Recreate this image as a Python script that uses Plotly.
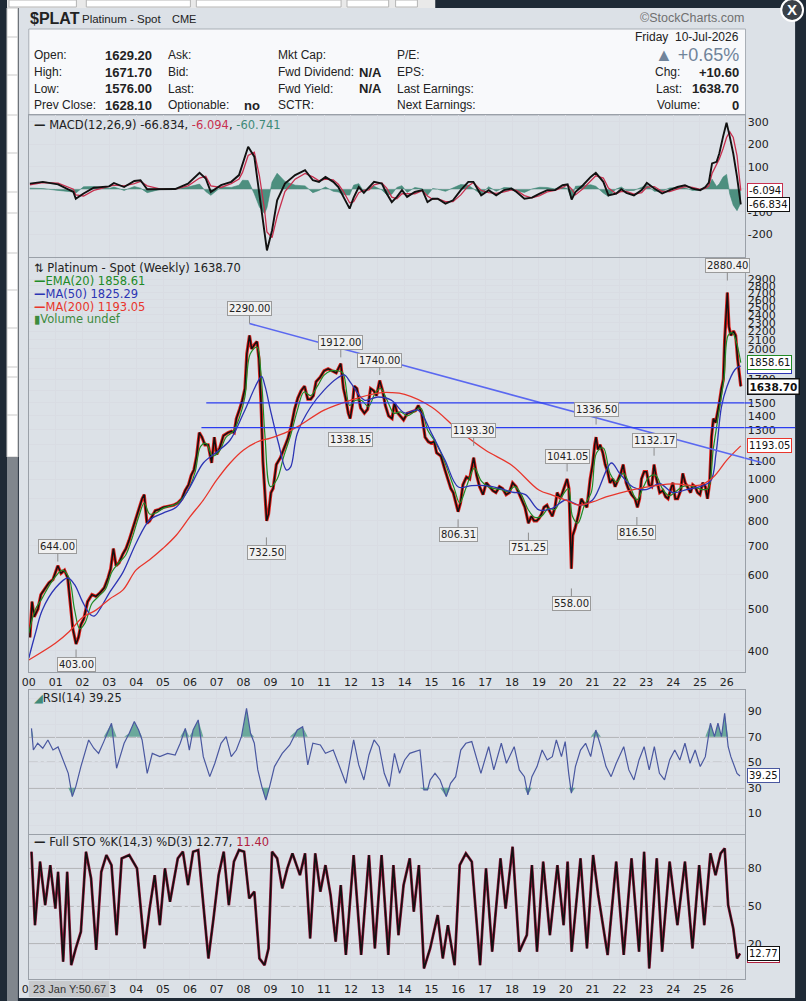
import numpy as np
import plotly.graph_objects as go

W, H = 806, 1001
SANS = "DejaVu Sans, Verdana, sans-serif"
NARROW = "Liberation Sans, Arial, sans-serif"

# ---------------- data (x in decimal years) ----------------
YEAR_TICKS = [2000, 2001, 2002, 2003, 2004, 2005, 2006, 2007, 2008, 2009, 2010, 2011, 2012, 2013,
              2014, 2015, 2016, 2017, 2018, 2019, 2020, 2021, 2022, 2023, 2024, 2025, 2026]
YEAR_LABELS = ["00", "01", "02", "03", "04", "05", "06", "07", "08", "09", "10", "11", "12", "13",
               "14", "15", "16", "17", "18", "19", "20", "21", "22", "23", "24", "25", "26"]
# bottom axis: 01 and 02 sit under the hover readout box
BOTTOM_LABELS = ["00", "", "", "03", "04", "05", "06", "07", "08", "09", "10", "11", "12", "13",
                 "14", "15", "16", "17", "18", "19", "20", "21", "22", "23", "24", "25", "26"]
PRICE_TICKS = [400, 500, 600, 700, 800, 900, 1000, 1100, 1200, 1300, 1400, 1500, 1600, 1700, 1800,
               1900, 2000, 2100, 2200, 2300, 2400, 2500, 2600, 2700, 2800, 2900]
# 1200, 1600, 1800 and 1900 are hidden behind the value tags on the right
PRICE_TICK_TEXT = ["400", "500", "600", "700", "800", "900", "1000", "1100", "", "1300", "1400", "1500",
                   "", "1700", "", "", "2000", "2100", "2200", "2300", "2400", "2500", "2600", "2700",
                   "2800", "2900"]

# weekly closes, platinum spot
PRICE_X = [2000.04, 2000.12, 2000.20, 2000.34, 2000.45, 2000.59, 2000.75, 2000.90, 2001.00, 2001.08,
           2001.20, 2001.33, 2001.45, 2001.55, 2001.64, 2001.76, 2001.85, 2001.94, 2002.05, 2002.19,
           2002.35, 2002.50, 2002.65, 2002.81, 2002.95, 2003.05, 2003.15, 2003.25, 2003.36, 2003.50,
           2003.62, 2003.73, 2003.85, 2004.00, 2004.12, 2004.22, 2004.30, 2004.40, 2004.50, 2004.60,
           2004.71, 2004.85, 2005.02, 2005.20, 2005.39, 2005.55, 2005.70, 2005.82, 2005.95, 2006.05,
           2006.15, 2006.25, 2006.35, 2006.45, 2006.56, 2006.68, 2006.81, 2006.91, 2007.00, 2007.11,
           2007.25, 2007.42, 2007.55, 2007.65, 2007.73, 2007.85, 2007.95, 2008.05, 2008.12, 2008.22,
           2008.30, 2008.41, 2008.50, 2008.57, 2008.65, 2008.72, 2008.78, 2008.86, 2008.93, 2009.02,
           2009.10, 2009.22, 2009.37, 2009.50, 2009.65, 2009.78, 2009.90, 2010.02, 2010.14, 2010.27,
           2010.39, 2010.50, 2010.60, 2010.70, 2010.85, 2011.00, 2011.15, 2011.30, 2011.45, 2011.62,
           2011.72, 2011.80, 2011.90, 2011.97, 2012.05, 2012.12, 2012.22, 2012.36, 2012.50, 2012.62,
           2012.73, 2012.85, 2012.95, 2013.07, 2013.18, 2013.28, 2013.40, 2013.53, 2013.62, 2013.71,
           2013.85, 2013.96, 2014.10, 2014.27, 2014.40, 2014.51, 2014.63, 2014.76, 2014.88, 2014.98,
           2015.10, 2015.19, 2015.35, 2015.50, 2015.62, 2015.72, 2015.81, 2015.92, 2015.99, 2016.08,
           2016.17, 2016.30, 2016.42, 2016.57, 2016.68, 2016.79, 2016.92, 2017.04, 2017.15, 2017.28,
           2017.40, 2017.53, 2017.65, 2017.78, 2017.90, 2018.02, 2018.15, 2018.33, 2018.48, 2018.61,
           2018.72, 2018.82, 2018.92, 2019.00, 2019.10, 2019.19, 2019.30, 2019.37, 2019.50, 2019.60,
           2019.68, 2019.80, 2019.87, 2019.96, 2020.05, 2020.12, 2020.18, 2020.21, 2020.26, 2020.35,
           2020.48, 2020.58, 2020.67, 2020.79, 2020.91, 2021.00, 2021.08, 2021.13, 2021.20, 2021.28,
           2021.38, 2021.47, 2021.56, 2021.65, 2021.75, 2021.84, 2021.96, 2022.05, 2022.14, 2022.25,
           2022.33, 2022.45, 2022.58, 2022.67, 2022.75, 2022.82, 2022.92, 2023.01, 2023.10, 2023.20,
           2023.29, 2023.38, 2023.50, 2023.62, 2023.72, 2023.81, 2023.92, 2023.99, 2024.08, 2024.17,
           2024.28, 2024.36, 2024.45, 2024.54, 2024.65, 2024.73, 2024.82, 2024.91, 2025.00, 2025.10,
           2025.20, 2025.28, 2025.36, 2025.43, 2025.50, 2025.58, 2025.65, 2025.72, 2025.80, 2025.87,
           2025.92, 2025.98, 2026.02, 2026.08, 2026.15, 2026.25, 2026.33, 2026.40, 2026.46, 2026.52]
PRICE_Y = [430, 520, 480, 500, 540, 555, 575, 585, 610, 630,
           605, 615, 590, 520, 450, 415, 430, 460, 475, 520,
           540, 535, 545, 560, 590, 620, 690, 630, 640, 670,
           690, 720, 760, 820, 860, 900, 920, 790, 800, 820,
           845, 850, 860, 865, 870, 880, 900, 940, 970, 1020,
           1050, 1130, 1280, 1250, 1200, 1200, 1090, 1250, 1140, 1180,
           1260, 1280, 1290, 1280, 1380, 1450, 1520, 1620, 1950, 2150,
           2000, 2050, 2080, 1900, 1500, 1100, 950, 800, 830, 930,
           950, 1080, 1120, 1180, 1240, 1330, 1450, 1540, 1600, 1640,
           1530, 1530, 1560, 1680, 1720, 1780, 1800, 1780, 1760, 1850,
           1620, 1540, 1420, 1380, 1480, 1640, 1620, 1460, 1420, 1450,
           1620, 1600, 1560, 1690, 1600, 1480, 1400, 1380, 1500, 1430,
           1400, 1370, 1420, 1430, 1440, 1480, 1420, 1250, 1220, 1210,
           1220, 1150, 1130, 1050, 990, 950, 930, 880, 840, 880,
           970, 1010, 1000, 1120, 1020, 960, 920, 980, 960, 940,
           930, 960, 950, 920, 930, 980, 960, 900, 860, 790,
           820, 800, 800, 810, 830, 860, 870, 850, 820, 860,
           930, 900, 930, 960, 1000, 950, 720, 620, 740, 770,
           830, 900, 880, 860, 1000, 1080, 1200, 1250, 1170, 1200,
           1150, 1080, 1040, 980, 1000, 960, 1000, 1030, 1080, 980,
           950, 920, 900, 860, 900, 1000, 1040, 1040, 970, 960,
           1080, 1000, 930, 940, 910, 900, 950, 980, 900, 900,
           940, 1030, 980, 960, 930, 970, 960, 930, 920, 980,
           960, 900, 980, 1250, 1380, 1350, 1420, 1500, 1620, 1700,
           2100, 2500, 2700, 2250, 2150, 2200, 2150, 1900, 1750, 1639]

EMA20_X = [2000.0, 2000.25, 2000.5, 2000.75, 2001.0, 2001.25, 2001.5, 2001.7, 2001.9, 2002.1,
           2002.35, 2002.6, 2002.85, 2003.1, 2003.35, 2003.6, 2003.85, 2004.1, 2004.3, 2004.5,
           2004.75, 2005.0, 2005.25, 2005.5, 2005.75, 2006.0, 2006.2, 2006.4, 2006.6, 2006.85,
           2007.1, 2007.35, 2007.6, 2007.85, 2008.05, 2008.25, 2008.5, 2008.65, 2008.8, 2009.0,
           2009.25, 2009.5, 2009.75, 2010.0, 2010.25, 2010.5, 2010.75, 2011.0, 2011.25, 2011.5,
           2011.7, 2011.95, 2012.15, 2012.4, 2012.65, 2012.9, 2013.1, 2013.35, 2013.6, 2013.85,
           2014.1, 2014.35, 2014.6, 2014.85, 2015.1, 2015.35, 2015.6, 2015.85, 2016.05, 2016.3,
           2016.6, 2016.85, 2017.1, 2017.35, 2017.6, 2017.85, 2018.1, 2018.35, 2018.6, 2018.85,
           2019.1, 2019.35, 2019.6, 2019.85, 2020.1, 2020.25, 2020.45, 2020.7, 2020.95, 2021.15,
           2021.4, 2021.65, 2021.9, 2022.15, 2022.4, 2022.65, 2022.9, 2023.1, 2023.35, 2023.6,
           2023.85, 2024.1, 2024.35, 2024.6, 2024.85, 2025.1, 2025.3, 2025.5, 2025.7, 2025.9,
           2026.05, 2026.2, 2026.35, 2026.52]
EMA20_Y = [440, 500, 530, 565, 595, 615, 590, 500, 450, 465,
           515, 535, 555, 610, 640, 665, 730, 820, 880, 830,
           835, 855, 865, 875, 905, 960, 1040, 1190, 1210, 1130,
           1160, 1250, 1285, 1390, 1550, 1950, 2020, 1750, 1250, 960,
           1000, 1130, 1260, 1440, 1590, 1560, 1640, 1740, 1780, 1780,
           1760, 1480, 1520, 1520, 1470, 1580, 1620, 1520, 1420, 1430,
           1400, 1430, 1460, 1300, 1230, 1150, 1050, 950, 880, 960,
           1060, 990, 960, 950, 945, 935, 960, 920, 850, 815,
           820, 855, 850, 910, 950, 820, 790, 870, 930, 1150,
           1180, 1030, 985, 1030, 960, 895, 960, 1010, 1020, 950,
           915, 935, 960, 965, 955, 945, 950, 1180, 1420, 1720,
           2150, 2180, 2080, 1859]

MA50_X = [2000.0, 2000.25, 2000.5, 2001.0, 2001.45, 2001.7, 2002.0, 2002.3, 2002.45, 2002.7,
          2003.0, 2003.5, 2004.0, 2004.5, 2005.0, 2005.5, 2006.0, 2006.5, 2007.0, 2007.5,
          2008.0, 2008.5, 2008.67, 2008.8, 2009.0, 2009.3, 2009.6, 2009.75, 2010.0, 2010.5,
          2011.0, 2011.5, 2011.75, 2012.0, 2012.5, 2013.0, 2013.5, 2014.0, 2014.5, 2015.0,
          2015.5, 2016.0, 2016.5, 2017.0, 2017.5, 2018.0, 2018.5, 2019.0, 2019.5, 2020.0,
          2020.5, 2021.0, 2021.7, 2022.0, 2022.5, 2023.0, 2023.5, 2024.0, 2024.5, 2025.0,
          2025.4, 2025.6, 2025.8, 2026.0, 2026.3, 2026.45, 2026.52]
MA50_Y = [385, 440, 497, 560, 590, 570, 520, 485, 482, 506,
          545, 607, 711, 804, 834, 861, 958, 1089, 1155, 1231,
          1422, 1667, 1728, 1640, 1444, 1210, 1049, 1065, 1275, 1468,
          1606, 1713, 1741, 1667, 1523, 1548, 1523, 1422, 1444, 1275,
          1106, 958, 965, 965, 953, 933, 920, 848, 855, 894,
          870, 894, 1089, 1032, 958, 945, 975, 930, 945, 960,
          990, 1149, 1468, 1633, 1790, 1820, 1825]

MA200_X = [2000.0, 2001.0, 2001.5, 2002.0, 2002.5, 2003.0, 2003.5, 2004.0, 2004.5, 2005.0,
           2005.5, 2006.0, 2006.5, 2007.0, 2007.5, 2008.0, 2008.5, 2009.0, 2009.5, 2010.0,
           2011.0, 2012.0, 2013.0, 2013.5, 2014.0, 2015.0, 2016.0, 2017.0, 2018.0, 2019.0,
           2019.5, 2020.0, 2020.5, 2021.0, 2021.5, 2022.0, 2023.0, 2024.0, 2025.0, 2025.5,
           2026.0, 2026.52]
MA200_Y = [381, 417, 443, 478, 497, 527, 553, 616, 650, 691,
           742, 817, 894, 995, 1089, 1167, 1218, 1244, 1275, 1320,
           1444, 1523, 1581, 1585, 1570, 1468, 1298, 1167, 1075, 943,
           918, 894, 870, 885, 909, 928, 958, 974, 968, 1011,
           1106, 1193]

# labelled swing highs / lows
PEAK_X = [2001.08, 2008.22, 2011.62, 2013.07, 2016.57, 2020.05, 2021.13, 2023.29, 2026.02]
PEAK_Y = [644.00, 2290.00, 1912.00, 1740.00, 1193.30, 1041.05, 1336.50, 1132.17, 2880.40]
TROUGH_X = [2001.76, 2008.85, 2011.99, 2015.99, 2018.61, 2020.21, 2022.65]
TROUGH_Y = [403.00, 732.50, 1338.15, 806.31, 751.25, 558.00, 816.50]

# drawn trend line and two horizontal levels
TREND_X = [2008.22, 2026.66]
TREND_Y = [2290, 1118]
LEVEL_START = [2006.61, 2006.43]
LEVEL_Y = [1500, 1315]

# MACD(12,26,9)
MACD_X = [2000.04, 2000.52, 2001.09, 2001.66, 2001.75, 2002.04, 2002.42, 2002.99, 2003.17, 2003.55,
          2003.93, 2004.16, 2004.41, 2004.88, 2005.45, 2005.93, 2006.36, 2006.59, 2006.78, 2007.16,
          2007.54, 2007.83, 2007.96, 2008.17, 2008.40, 2008.59, 2008.78, 2008.87, 2009.06, 2009.25,
          2009.54, 2009.92, 2010.29, 2010.58, 2010.81, 2011.05, 2011.34, 2011.53, 2011.72, 2011.95,
          2012.10, 2012.29, 2012.48, 2012.67, 2012.86, 2013.15, 2013.33, 2013.52, 2013.71, 2013.90,
          2014.09, 2014.38, 2014.66, 2014.85, 2015.04, 2015.23, 2015.52, 2015.80, 2016.09, 2016.37,
          2016.56, 2016.85, 2017.13, 2017.41, 2017.70, 2017.98, 2018.17, 2018.46, 2018.74, 2019.03,
          2019.31, 2019.60, 2019.88, 2020.07, 2020.22, 2020.36, 2020.64, 2020.93, 2021.12, 2021.40,
          2021.59, 2021.88, 2022.07, 2022.26, 2022.54, 2022.83, 2023.02, 2023.30, 2023.59, 2023.87,
          2024.16, 2024.44, 2024.72, 2025.01, 2025.20, 2025.33, 2025.45, 2025.62, 2025.72, 2025.86,
          2025.99, 2026.11, 2026.24, 2026.38, 2026.52]
MACD_LINE = [25, 33, 22, -12, -42, -19, 7, 13, 28, 10,
             37, 40, 0, 1, 1, 25, 73, 48, -12, 18,
             33, 63, 115, 189, 145, -19, -198, -272, -183, -49,
             25, 63, 85, 40, 33, 55, 33, 10, -34, -86,
             -37, 10, -16, 7, 33, 25, -19, -57, -34, -4,
             -34, -12, -4, -57, -42, -42, -64, -49, -4, 33,
             33, -27, -4, -27, -4, 3, -12, -42, -37, -19,
             -4, -4, 18, 22, -46, -12, 18, 55, 73, 33,
             -27, -19, 0, -16, -27, -4, 28, 3, -19, -4,
             10, 18, 3, -4, 10, 30, 115, 122, 159, 234,
             296, 234, 159, 55, -66.834]
MACD_SIGNAL = [20, 30, 27, 0, -25, -30, -5, 10, 18, 15,
               25, 35, 15, 2, 1, 15, 50, 58, 15, 8,
               25, 45, 75, 150, 165, 60, -90, -190, -215, -120,
               -10, 45, 70, 55, 38, 45, 42, 22, -10, -60,
               -55, -15, -5, -3, 20, 28, 5, -35, -42, -20,
               -20, -20, -6, -30, -45, -42, -55, -55, -25, 15,
               30, -5, -15, -18, -12, -3, -5, -28, -38, -28,
               -12, -5, 8, 20, 0, -25, 2, 35, 60, 50,
               5, -20, -10, -10, -22, -15, 10, 12, -10, -10,
               2, 12, 8, 0, 4, 15, 70, 110, 135, 180,
               230, 255, 230, 150, -6.094]
MACD_HIST = [5, 3, -5, -12, -17, 11, 12, 3, 10, -5,
             12, 5, -15, -1, 0, 10, 23, -10, -27, 10,
             8, 18, 40, 39, -20, -79, -108, -82, 32, 71,
             35, 18, 15, -15, -5, 10, -9, -12, -24, -26,
             18, 25, -11, 10, 13, -3, -24, -22, 8, 16,
             -14, 8, 2, -27, 3, 0, -9, 6, 21, 18,
             3, -22, 11, -9, 8, 6, -7, -14, 1, 9,
             8, 1, 10, 2, -46, 13, 16, 20, 13, -17,
             -32, 1, 10, -6, -5, 11, 18, -9, -9, 6,
             8, 6, -5, -4, 6, 15, 45, 12, 24, 54,
             66, -21, -71, -95, -60.741]

# RSI(14)
RSI_X = [2000.10, 2000.17, 2000.33, 2000.52, 2000.71, 2000.90, 2001.09, 2001.28, 2001.47, 2001.62,
         2001.75, 2001.94, 2002.23, 2002.42, 2002.60, 2002.79, 2003.08, 2003.27, 2003.55, 2003.74,
         2003.93, 2004.09, 2004.22, 2004.41, 2004.60, 2004.88, 2005.17, 2005.45, 2005.64, 2005.83,
         2005.98, 2006.12, 2006.31, 2006.50, 2006.74, 2006.93, 2007.16, 2007.35, 2007.54, 2007.73,
         2007.92, 2008.11, 2008.26, 2008.40, 2008.53, 2008.68, 2008.83, 2008.97, 2009.15, 2009.44,
         2009.72, 2010.00, 2010.20, 2010.39, 2010.58, 2010.86, 2011.05, 2011.34, 2011.72, 2011.81,
         2012.10, 2012.29, 2012.48, 2012.67, 2012.86, 2013.05, 2013.24, 2013.43, 2013.62, 2013.81,
         2014.00, 2014.19, 2014.38, 2014.57, 2014.72, 2014.85, 2014.95, 2015.13, 2015.32, 2015.55,
         2015.71, 2015.90, 2016.09, 2016.28, 2016.50, 2016.66, 2016.84, 2017.13, 2017.32, 2017.60,
         2017.79, 2018.08, 2018.27, 2018.46, 2018.59, 2018.74, 2018.93, 2019.12, 2019.31, 2019.50,
         2019.65, 2019.84, 2019.98, 2020.11, 2020.21, 2020.36, 2020.55, 2020.74, 2020.93, 2021.12,
         2021.31, 2021.50, 2021.69, 2021.88, 2022.16, 2022.35, 2022.54, 2022.73, 2022.92, 2023.11,
         2023.30, 2023.49, 2023.68, 2023.87, 2024.06, 2024.25, 2024.44, 2024.63, 2024.82, 2025.01,
         2025.20, 2025.39, 2025.54, 2025.67, 2025.80, 2025.92, 2026.05, 2026.15, 2026.24, 2026.38,
         2026.49]
RSI_Y = [76.6, 59.6, 64.9, 61.0, 67.5, 59.6, 62.0, 51.8, 41.3, 23.0,
         30.9, 46.6, 67.5, 61.0, 57.0, 66.0, 80.6, 45.3, 64.9, 72.7,
         81.9, 75.3, 67.5, 41.3, 57.0, 54.4, 57.0, 55.7, 64.9, 76.6,
         59.6, 75.3, 83.2, 54.4, 38.7, 49.2, 64.9, 70.1, 54.4, 59.6,
         70.1, 92.3, 72.7, 64.9, 44.0, 30.9, 20.4, 30.9, 46.6, 57.0,
         63.6, 75.3, 77.9, 47.9, 64.9, 63.6, 57.0, 59.6, 38.7, 33.5,
         67.5, 47.9, 36.1, 55.7, 67.5, 62.2, 41.3, 30.9, 57.0, 41.3,
         51.8, 57.0, 58.3, 59.6, 28.3, 28.3, 36.1, 41.3, 36.1, 23.0,
         33.5, 38.7, 59.6, 64.9, 66.2, 54.4, 41.3, 62.2, 44.0, 64.9,
         49.2, 62.2, 44.0, 38.7, 24.4, 38.7, 46.6, 59.6, 51.8, 54.4,
         67.5, 54.4, 66.2, 41.3, 25.7, 46.6, 59.6, 64.9, 54.4, 75.3,
         62.2, 46.6, 38.7, 49.2, 62.2, 44.0, 36.1, 51.8, 62.2, 44.0,
         62.2, 41.3, 36.1, 51.8, 59.6, 51.8, 64.9, 49.2, 59.6, 46.6,
         54.4, 80.6, 70.1, 80.6, 70.1, 88.4, 62.2, 54.4, 49.2, 41.3,
         39.25]

# Full STO %K(14,3)
STO_X = [2000.10, 2000.23, 2000.42, 2000.61, 2000.80, 2000.99, 2001.09, 2001.28, 2001.43, 2001.58,
         2001.75, 2001.94, 2002.13, 2002.32, 2002.51, 2002.70, 2002.89, 2003.08, 2003.27, 2003.46,
         2003.74, 2004.03, 2004.31, 2004.50, 2004.69, 2004.88, 2005.07, 2005.26, 2005.55, 2005.74,
         2005.93, 2006.12, 2006.31, 2006.50, 2006.69, 2006.88, 2007.07, 2007.26, 2007.45, 2007.64,
         2007.83, 2008.02, 2008.21, 2008.40, 2008.59, 2008.78, 2008.93, 2009.06, 2009.25, 2009.44,
         2009.63, 2009.82, 2010.10, 2010.29, 2010.48, 2010.67, 2010.86, 2011.05, 2011.24, 2011.43,
         2011.62, 2011.81, 2012.10, 2012.38, 2012.67, 2012.89, 2013.14, 2013.39, 2013.58, 2013.77,
         2013.96, 2014.19, 2014.34, 2014.53, 2014.72, 2014.95, 2015.23, 2015.42, 2015.61, 2015.86,
         2016.05, 2016.28, 2016.50, 2016.81, 2017.03, 2017.26, 2017.57, 2017.76, 2018.02, 2018.27,
         2018.55, 2018.74, 2018.93, 2019.16, 2019.41, 2019.69, 2019.92, 2020.07, 2020.22, 2020.55,
         2020.79, 2021.02, 2021.21, 2021.56, 2021.88, 2022.16, 2022.45, 2022.73, 2022.92, 2023.11,
         2023.39, 2023.59, 2023.87, 2024.16, 2024.44, 2024.72, 2024.97, 2025.16, 2025.39, 2025.58,
         2025.77, 2025.92, 2026.05, 2026.24, 2026.38, 2026.49]
STO_K = [92.5, 35.0, 84.7, 50.7, 82.0, 48.0, 76.8, 6.3, 76.8, 3.7,
         16.8, 29.8, 92.5, 71.6, 15.5, 76.8, 89.9, 82.0, 27.2, 87.3,
         89.9, 79.5, 16.8, 48.0, 74.2, 35.0, 79.5, 53.3, 87.3, 92.5,
         66.4, 92.5, 93.8, 53.3, 8.9, 40.3, 74.2, 92.5, 50.7, 84.7,
         93.8, 92.5, 56.0, 61.2, 8.9, 3.7, 16.8, 92.5, 87.3, 63.8,
         79.5, 91.2, 74.2, 91.2, 24.6, 91.2, 61.2, 82.0, 58.6, 22.0,
         66.4, 11.6, 89.9, 11.6, 89.9, 16.8, 89.9, 11.6, 82.0, 27.2,
         66.4, 87.3, 45.5, 82.0, 1.1, 16.8, 42.9, 8.9, 35.0, 3.7,
         82.0, 91.2, 84.7, 3.7, 79.5, 14.2, 87.3, 48.0, 96.4, 14.2,
         27.2, 82.0, 14.2, 84.7, 27.2, 82.0, 35.0, 84.7, 14.2, 87.3,
         16.8, 89.9, 58.6, 11.6, 84.7, 11.6, 87.3, 14.2, 92.5, 1.1,
         87.3, 14.2, 84.7, 35.0, 84.7, 16.8, 82.0, 35.0, 91.2, 74.2,
         91.2, 95.1, 50.7, 32.4, 8.9, 12.77]

# ---------------- page geometry ----------------
X_RANGE = [2000.0, 2026.66]
X_DOMAIN = [22 / W, 744 / W]
GRID = "#d9dce3"
FRAME = "#9aa0a8"
TXT = "#222222"


def dom(top_px, bottom_px):
    # pixel rows of a panel -> paper domain
    return [1 - bottom_px / H, 1 - top_px / H]


def rect(x0, y0, x1, y1, fill, line=None, layer="below", lw=1):
    return dict(type="rect", xref="paper", yref="paper", x0=x0 / W, x1=x1 / W,
                y0=1 - y1 / H, y1=1 - y0 / H, fillcolor=fill, layer=layer,
                line=dict(color=line or fill, width=lw if line else 0))


def text(x, y, s, size=12, color=TXT, anchor="left", family=NARROW):
    return dict(xref="paper", yref="paper", x=x / W, y=1 - y / H, text=s, showarrow=False,
                xanchor=anchor, yanchor="middle", font=dict(family=family, size=size, color=color))


def tag(yref, y, s, border, bold=False, width=1):
    # value tag on the right hand axis
    return dict(xref="paper", yref=yref, x=746 / W, y=y, xanchor="left", yanchor="middle",
                text="<b>%s</b>" % s if bold else s, showarrow=False, bgcolor="white",
                bordercolor=border, borderwidth=width, borderpad=1,
                font=dict(family=SANS, size=10.5 if bold else 10, color="#111"))


def swing_label(x, y, up):
    return dict(xref="x2", yref="y2", x=x, y=np.log10(y), text="%.2f" % y, showarrow=True,
                arrowhead=0, arrowwidth=1, arrowcolor="#8c8c8c", ax=0, ay=-15 if up else 15,
                bgcolor="#f1f1f1", bordercolor="#9a9a9a", borderwidth=1, borderpad=1,
                font=dict(family=SANS, size=10, color="#222"))


fig = go.Figure()

# ---- MACD panel ----
fig.add_trace(go.Scatter(x=MACD_X, y=MACD_HIST, xaxis="x", yaxis="y", mode="lines",
                         line=dict(color="#3f8a78", width=0.6), fill="tozeroy",
                         fillcolor="rgba(52,128,108,0.85)", hoverinfo="skip"))
fig.add_trace(go.Scatter(x=MACD_X, y=MACD_SIGNAL, xaxis="x", yaxis="y", mode="lines",
                         line=dict(color="#c8304f", width=1.3), hoverinfo="skip"))
fig.add_trace(go.Scatter(x=MACD_X, y=MACD_LINE, xaxis="x", yaxis="y", mode="lines",
                         line=dict(color="#111111", width=1.9), hoverinfo="skip"))

# ---- price panel ----
fig.add_trace(go.Scatter(x=PRICE_X, y=PRICE_Y, xaxis="x2", yaxis="y2", mode="lines",
                         line=dict(color="#e3201b", width=3.2), hoverinfo="skip"))
fig.add_trace(go.Scatter(x=PRICE_X, y=PRICE_Y, xaxis="x2", yaxis="y2", mode="lines",
                         line=dict(color="#111111", width=1.5), hoverinfo="skip"))
fig.add_trace(go.Scatter(x=EMA20_X, y=EMA20_Y, xaxis="x2", yaxis="y2", mode="lines",
                         line=dict(color="#218a26", width=1.2, shape="spline"), hoverinfo="skip"))
fig.add_trace(go.Scatter(x=MA50_X, y=MA50_Y, xaxis="x2", yaxis="y2", mode="lines",
                         line=dict(color="#2c34b4", width=1.3, shape="spline"), hoverinfo="skip"))
fig.add_trace(go.Scatter(x=MA200_X, y=MA200_Y, xaxis="x2", yaxis="y2", mode="lines",
                         line=dict(color="#e8362c", width=1.3, shape="spline"), hoverinfo="skip"))
fig.add_trace(go.Scatter(x=TREND_X, y=TREND_Y, xaxis="x2", yaxis="y2", mode="lines",
                         line=dict(color="#5a68f0", width=1.6), hoverinfo="skip"))
for start, level in zip(LEVEL_START, LEVEL_Y):
    fig.add_trace(go.Scatter(x=[start, X_RANGE[1]], y=[level, level], xaxis="x2", yaxis="y2",
                             mode="lines", line=dict(color="#2a3cf0", width=1.3), hoverinfo="skip"))

# ---- RSI panel (teal fill beyond 70 / 30) ----
rsi = np.array(RSI_Y)
fig.add_trace(go.Scatter(x=RSI_X, y=[70] * len(RSI_X), xaxis="x3", yaxis="y3", mode="lines",
                         line=dict(width=0), hoverinfo="skip"))
fig.add_trace(go.Scatter(x=RSI_X, y=np.maximum(rsi, 70), xaxis="x3", yaxis="y3", mode="lines",
                         line=dict(width=0), fill="tonexty", fillcolor="rgba(70,150,130,0.75)",
                         hoverinfo="skip"))
fig.add_trace(go.Scatter(x=RSI_X, y=[30] * len(RSI_X), xaxis="x3", yaxis="y3", mode="lines",
                         line=dict(width=0), hoverinfo="skip"))
fig.add_trace(go.Scatter(x=RSI_X, y=np.minimum(rsi, 30), xaxis="x3", yaxis="y3", mode="lines",
                         line=dict(width=0), fill="tonexty", fillcolor="rgba(70,150,130,0.75)",
                         hoverinfo="skip"))
fig.add_trace(go.Scatter(x=RSI_X, y=RSI_Y, xaxis="x3", yaxis="y3", mode="lines",
                         line=dict(color="#4a58a0", width=1.2), hoverinfo="skip"))

# ---- full stochastics ----
fig.add_trace(go.Scatter(x=STO_X, y=STO_K, xaxis="x4", yaxis="y4", mode="lines",
                         line=dict(color="#9a1c40", width=2.8), hoverinfo="skip"))
fig.add_trace(go.Scatter(x=STO_X, y=STO_K, xaxis="x4", yaxis="y4", mode="lines",
                         line=dict(color="#111111", width=1.6), hoverinfo="skip"))

# ---- axes ----
xbase = dict(range=X_RANGE, domain=X_DOMAIN, tickvals=YEAR_TICKS, ticktext=YEAR_LABELS,
             showgrid=True, gridcolor=GRID, zeroline=False, showline=True, mirror=True,
             linecolor=FRAME, ticks="", tickfont=dict(family=SANS, size=11, color=TXT))
ybase = dict(side="right", showgrid=True, gridcolor=GRID, zeroline=False, showline=True,
             mirror=True, linecolor=FRAME, ticks="", tickfont=dict(family=SANS, size=11, color=TXT))

fig.update_layout(
    xaxis=dict(xbase, anchor="y", showticklabels=False),
    xaxis2=dict(xbase, anchor="y2", matches="x", showticklabels=True),
    xaxis3=dict(xbase, anchor="y3", matches="x", showticklabels=False),
    xaxis4=dict(xbase, anchor="y4", matches="x", showticklabels=True, ticktext=BOTTOM_LABELS),
    yaxis=dict(ybase, anchor="x", domain=dom(115, 257), range=[-301, 330],
               tickvals=[-200, -100, 0, 100, 200, 300], ticktext=["-200", "-100", "", "100", "200", "300"]),
    yaxis2=dict(ybase, anchor="x2", domain=dom(258, 672), type="log", range=[2.5532, 3.5116],
                tickvals=PRICE_TICKS, ticktext=PRICE_TICK_TEXT),
    yaxis3=dict(ybase, anchor="x3", domain=dom(690, 834), range=[-6.3, 106.7],
                tickvals=[0, 10, 20, 30, 40, 50, 60, 70, 80, 90, 100],
                ticktext=["", "10", "", "30", "", "50", "", "70", "", "90", ""]),
    yaxis4=dict(ybase, anchor="x4", domain=dom(835, 979), range=[-7.2, 105.6],
                tickvals=[0, 10, 20, 30, 40, 50, 60, 70, 80, 90, 100],
                ticktext=["", "", "20", "", "", "50", "", "", "80", "", ""]),
)

# ---- page chrome and reference lines ----
shapes = [
    rect(12, 8, 795, 998, "#dce1e7"),
    rect(0, 0, 432, 8, "#e9e9e9"),
    rect(2, 0, 70, 7, "white", "#b5b5b5"),
    rect(80, 0, 185, 7, "white", "#b5b5b5"),
    rect(191, 0, 337, 7, "white", "#b5b5b5"),
    rect(343, 0, 385, 7, "white", "#b5b5b5"),
    rect(392, 0, 414, 7, "white", "#b5b5b5"),
    rect(0, 8, 11, 457, "white", "#c9c9c9"),
    rect(0, 457, 11, 1001, "#80868d"),
    rect(22, 29, 745, 115, "#f8f9fb", "#a8aeb5"),
]
for yy in [37, 75, 115, 153, 192, 213, 253, 290, 328, 367, 377, 415]:
    shapes.append(dict(type="line", xref="paper", yref="paper", x0=0, x1=11 / W,
                       y0=1 - yy / H, y1=1 - yy / H, line=dict(color="#c9c9c9", width=1), layer="below"))
for yref, lv, col, dash, lw in [("y3", 70, "#8f8f8f", "solid", 1.6), ("y3", 30, "#8f8f8f", "solid", 1.6),
                                ("y3", 50, "#9a9a9a", "dashdot", 1.2), ("y4", 80, "#8f8f8f", "solid", 1.6),
                                ("y4", 20, "#8f8f8f", "solid", 1.6), ("y4", 50, "#9a9a9a", "dashdot", 1.2),
                                ("y", 0, "#b8bcc4", "solid", 1.2)]:
    xr = "x3" if yref == "y3" else ("x4" if yref == "y4" else "x")
    shapes.append(dict(type="line", xref=xr + " domain", yref=yref, x0=0, x1=1, y0=lv, y1=lv,
                       line=dict(color=col, width=lw, dash=dash), layer="below"))
# drawn lines continue past the right edge of the plot
shapes.append(dict(type="line", xref="paper", yref="y2", x0=X_DOMAIN[1], x1=752 / W, y0=1500, y1=1500,
                   line=dict(color="#2a3cf0", width=1.3)))
shapes.append(dict(type="line", xref="paper", yref="y2", x0=X_DOMAIN[1], x1=795 / W, y0=1315, y1=1315,
                   line=dict(color="#2a3cf0", width=1.3)))
shapes.append(dict(type="line", xref="paper", yref="y2", x0=X_DOMAIN[1], x1=762 / W, y0=1118, y1=1090,
                   line=dict(color="#5a68f0", width=1.6)))
# hover readout box and close button
shapes.append(rect(22, 981, 103, 997, "#c7c9cc", layer="above"))
shapes.append(dict(type="circle", xref="paper", yref="paper", x0=781 / W, x1=803 / W,
                   y0=1 - 21 / H, y1=1 - (-1) / H, fillcolor="#3b4148", line=dict(color="white", width=2)))

ann = []
# header
ann.append(text(21, 18, "<b>$PLAT</b>", size=16))
ann.append(text(74, 19, "Platinum - Spot", size=11.5))
ann.append(text(164, 19, "CME", size=11))
ann.append(text(745, 18, "©StockCharts.com", size=12.5, color="#707070", anchor="right"))
ann.append(text(740, 37, "Friday  10-Jul-2026", size=12, anchor="right"))
rows = [(55, "Open:", "1629.20", "Ask:", "Mkt Cap:", "", "P/E:"),
        (72, "High:", "1671.70", "Bid:", "Fwd Dividend:", "N/A", "EPS:"),
        (89, "Low:", "1576.00", "Last:", "Fwd Yield:", "N/A", "Last Earnings:"),
        (105, "Prev Close:", "1628.10", "Optionable:", "SCTR:", "", "Next Earnings:")]
for yy, a, b, c, d, e, f in rows:
    ann.append(text(25, yy, a))
    ann.append(text(148, yy, "<b>%s</b>" % b, size=13, anchor="right"))
    ann.append(text(160, yy, c))
    ann.append(text(271, yy, d))
    if e:
        ann.append(text(380, yy, "<b>%s</b>" % e, size=13, anchor="right"))
    ann.append(text(391, yy, f))
ann.append(text(257, 105, "<b>no</b>", size=13, anchor="right"))
ann.append(text(740, 55, "▲ +0.65%", size=18, color="#71849a", anchor="right"))
ann.append(text(652, 72, "Chg:"))
ann.append(text(740, 72, "<b>+10.60</b>", size=13, anchor="right"))
ann.append(text(653, 89, "Last:"))
ann.append(text(740, 89, "<b>1638.70</b>", size=13, anchor="right"))
ann.append(text(654, 105, "Volume:"))
ann.append(text(740, 105, "<b>0</b>", size=13, anchor="right"))

# panel legends
ann.append(text(25, 125, "<b>—</b> MACD(12,26,9) -66.834, <span style='color:#c8304f'>-6.094</span>, "
                         "<span style='color:#3f8a78'>-60.741</span>", size=11.5, family=SANS))
ann.append(text(25, 268, "⇅ Platinum - Spot (Weekly) 1638.70", size=11.5, family=SANS))
ann.append(text(25, 281, "<b>—</b>EMA(20) 1858.61", size=11.5, color="#218a26", family=SANS))
ann.append(text(25, 294, "<b>—</b>MA(50) 1825.29", size=11.5, color="#2c34b4", family=SANS))
ann.append(text(25, 307, "<b>—</b>MA(200) 1193.05", size=11.5, color="#e8362c", family=SANS))
ann.append(text(25, 319, "▮Volume undef", size=11.5, color="#3d8b3d", family=SANS))
ann.append(text(25, 698, "<span style='color:#3f8a78'>◢</span>RSI(14) 39.25", size=11.5, family=SANS))
ann.append(text(25, 842, "<b>—</b> Full STO %K(14,3) %D(3) 12.77, <span style='color:#b0203f'>11.40</span>",
                size=11.5, family=SANS))

# swing labels
for x, y in zip(PEAK_X, PEAK_Y):
    ann.append(swing_label(x, y, True))
for x, y in zip(TROUGH_X, TROUGH_Y):
    ann.append(swing_label(x, y, False))

# right axis value tags
ann.append(tag("y", -6.094, "-6.094", "#c8304f"))
ann.append(tag("y", -66.834, "-66.834", "#111111"))
ann.append(tag("y2", np.log10(1825.29), "1825.29", "#2c34b4"))
ann.append(tag("y2", np.log10(1858.61), "1858.61", "#218a26"))
ann.append(tag("y2", np.log10(1638.70), "1638.70", "#111111", bold=True, width=1.5))
ann.append(tag("y2", np.log10(1193.05), "1193.05", "#e8362c"))
ann.append(tag("y3", 39.25, "39.25", "#4a58a0"))
ann.append(tag("y4", 11.40, "11.40", "#b0203f"))
ann.append(tag("y4", 12.77, "12.77", "#111111"))

# hover readout + close button text
ann.append(text(24, 989, "23 Jan Y:50.67", size=11, color="#333"))
ann.append(text(792, 10, "<b>X</b>", size=15, color="white", anchor="center"))

fig.update_layout(width=W, height=H, margin=dict(l=0, r=0, t=0, b=0),
                  paper_bgcolor="#1f2a36", plot_bgcolor="#f6f7fb", showlegend=False,
                  shapes=shapes, annotations=ann)

# the page body has a default margin; drop it so the figure fills the window
fig.write_html("out.html", config={"displayModeBar": False},
               post_script="document.body.style.margin='0';")
